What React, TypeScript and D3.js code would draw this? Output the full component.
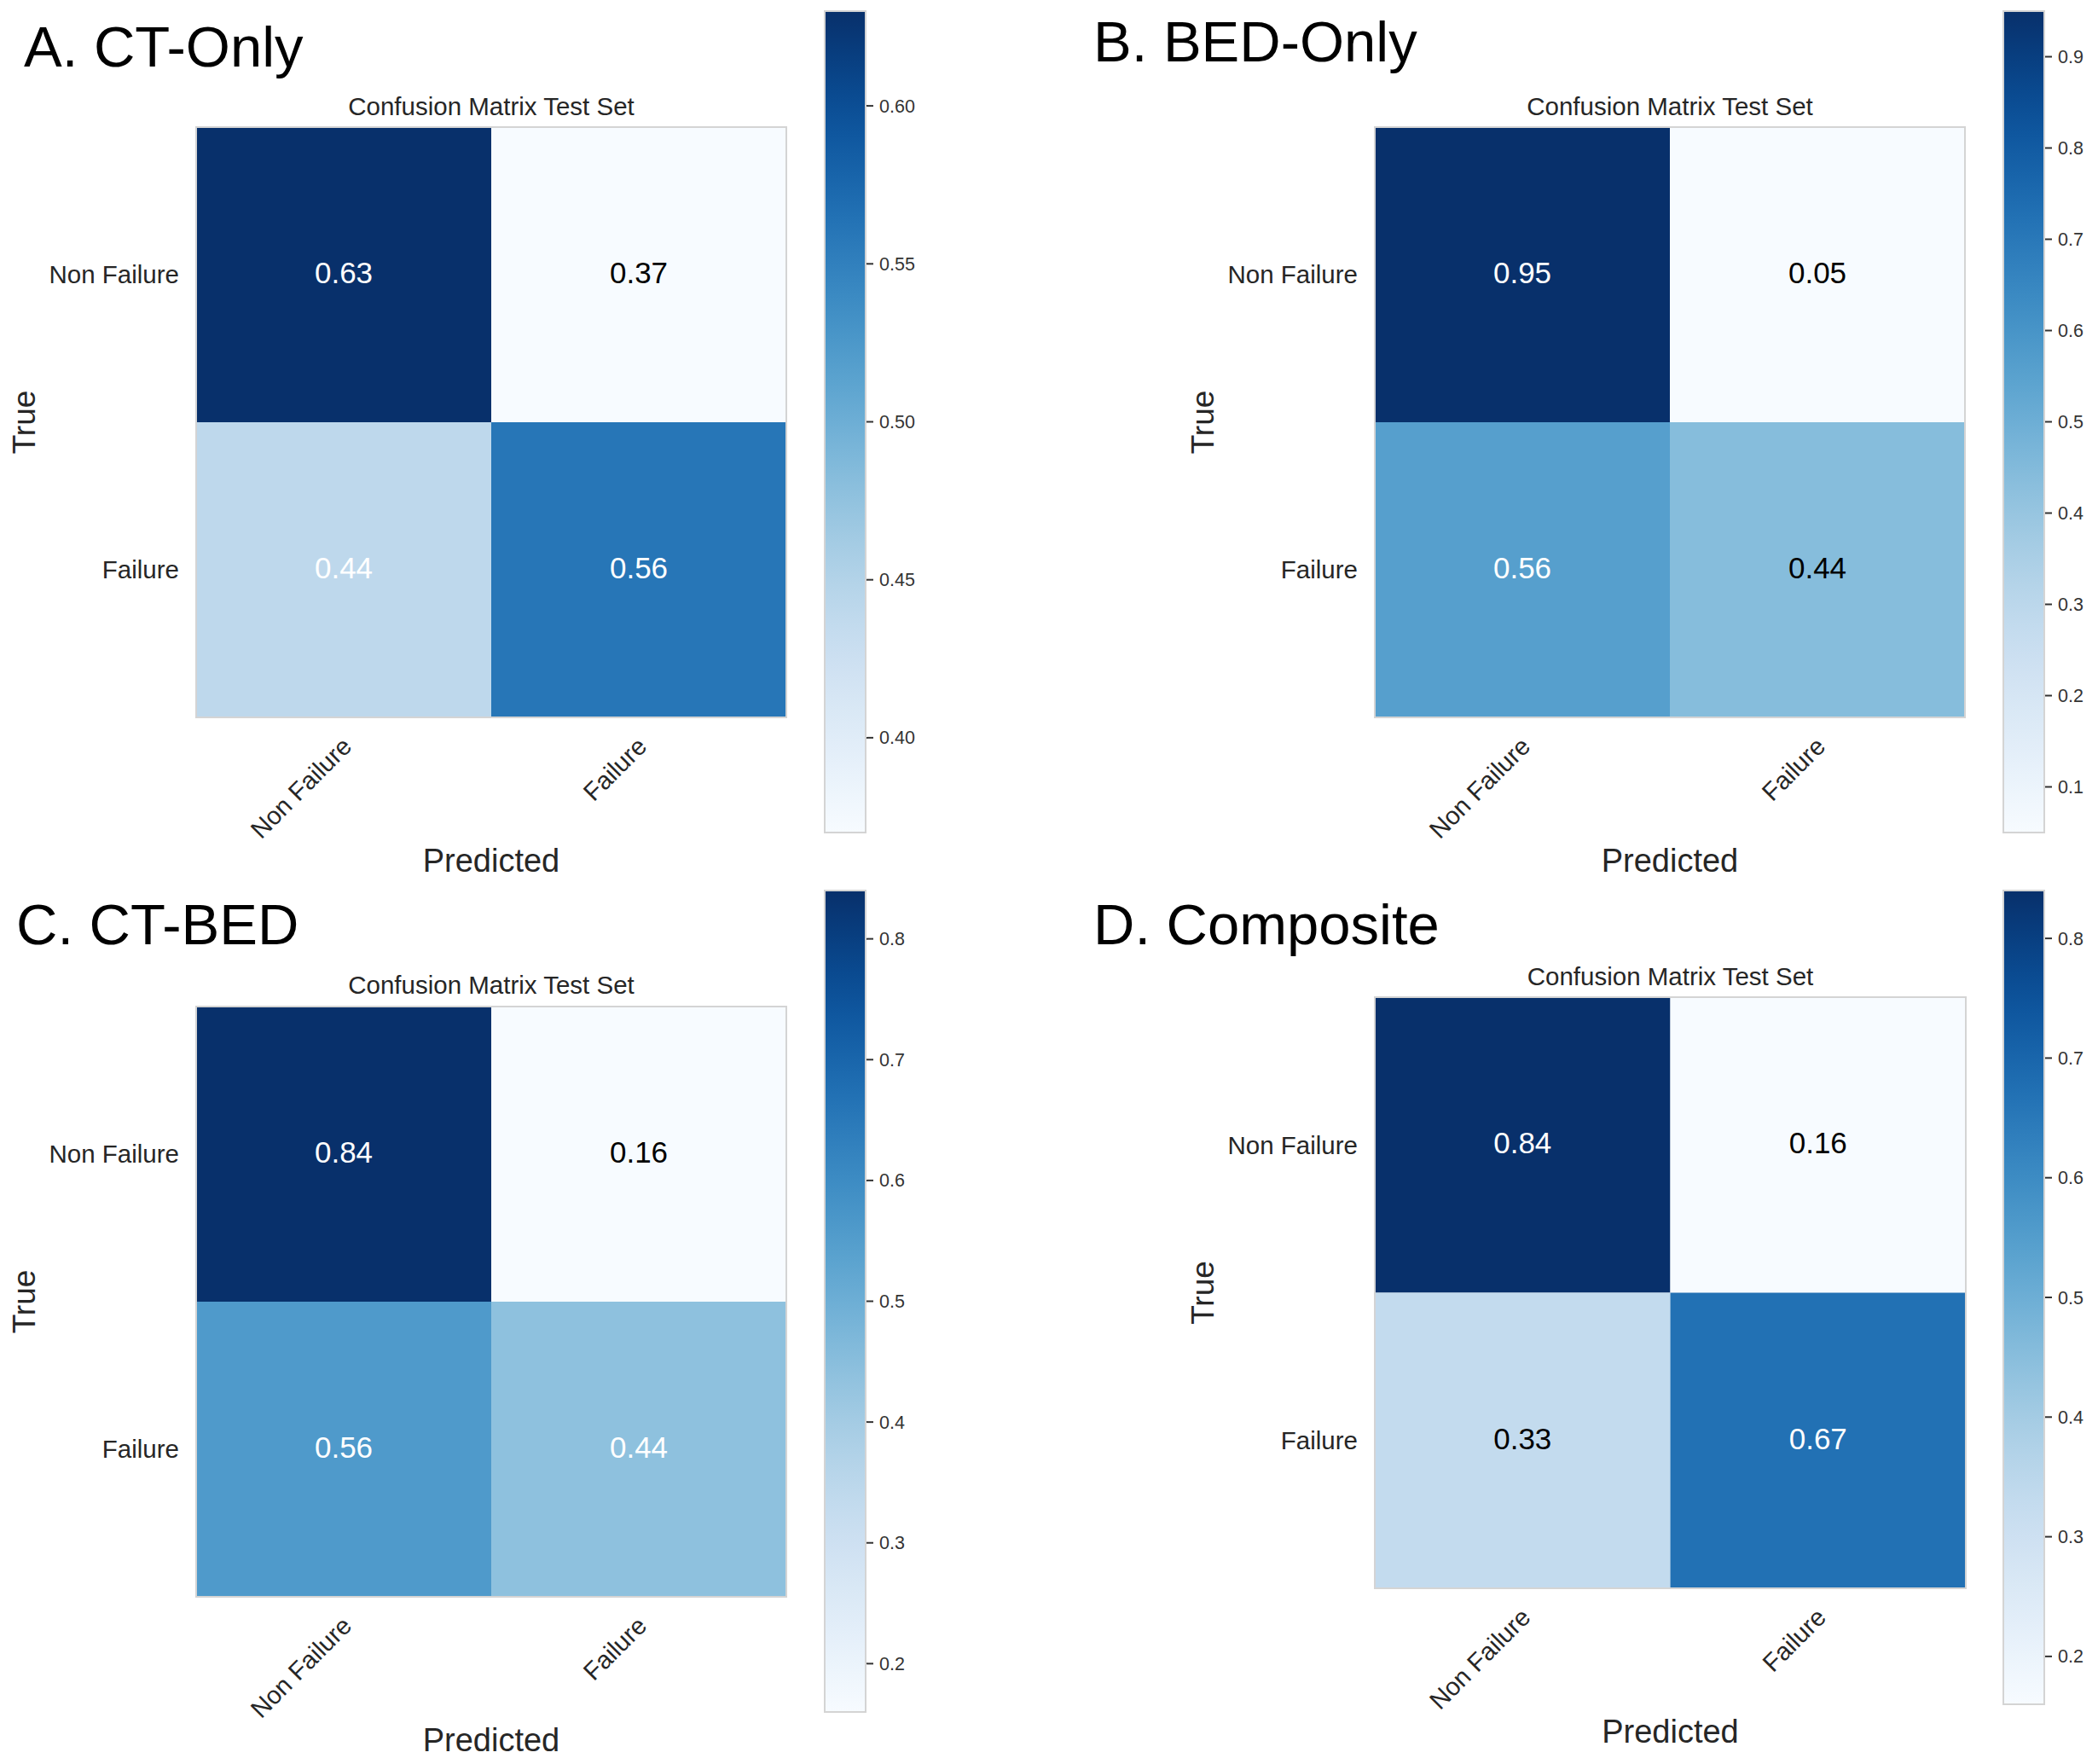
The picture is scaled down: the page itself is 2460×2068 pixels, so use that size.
import React, { useEffect } from 'react';
import * as d3 from 'd3';

// Class labels (rows = true, cols = predicted)
const CLASSES = ['Non Failure', 'Failure'];

// Normalised confusion matrices
const CT_ONLY = [
  [0.63, 0.37],
  [0.44, 0.56],
];
const BED_ONLY = [
  [0.95, 0.05],
  [0.56, 0.44],
];
const CT_BED = [
  [0.84, 0.16],
  [0.56, 0.44],
];
const COMPOSITE = [
  [0.84, 0.16],
  [0.33, 0.67],
];

// Which annotations are printed in white
const CT_ONLY_WHITE = [
  [true, false],
  [true, true],
];
const BED_ONLY_WHITE = [
  [true, false],
  [true, false],
];
const CT_BED_WHITE = [
  [true, false],
  [true, true],
];
const COMPOSITE_WHITE = [
  [true, false],
  [false, true],
];

// Colorbar ticks
const CT_ONLY_TICKS = [0.4, 0.45, 0.5, 0.55, 0.6];
const BED_ONLY_TICKS = [0.1, 0.2, 0.3, 0.4, 0.5, 0.6, 0.7, 0.8, 0.9];
const CT_BED_TICKS = [0.2, 0.3, 0.4, 0.5, 0.6, 0.7, 0.8];
const COMPOSITE_TICKS = [0.2, 0.3, 0.4, 0.5, 0.6, 0.7, 0.8];

const W = 2460;
const H = 2068;
const FONT = '"Liberation Sans", Arial, Helvetica, sans-serif';
const AXIS_INK = '#262626';
const EDGE = '#d4d4d4';

interface PanelSpec {
  id: string;
  letter: string;
  letterX: number;
  letterY: number;
  matrix: number[][];
  white: boolean[][];
  ticks: number[];
  tickFmt: string;
  mx: number;
  my: number;
  size: number;
  titleY: number;
  cbX: number;
  cbY: number;
  cbW: number;
  cbH: number;
}

const PANELS: PanelSpec[] = [
  {
    id: 'a', letter: 'A. CT-Only', letterX: 28, letterY: 78,
    matrix: CT_ONLY, white: CT_ONLY_WHITE, ticks: CT_ONLY_TICKS, tickFmt: '.2f',
    mx: 230, my: 149, size: 692, titleY: 135,
    cbX: 967, cbY: 13, cbW: 48, cbH: 963,
  },
  {
    id: 'b', letter: 'B. BED-Only', letterX: 1282, letterY: 72,
    matrix: BED_ONLY, white: BED_ONLY_WHITE, ticks: BED_ONLY_TICKS, tickFmt: '.1f',
    mx: 1612, my: 149, size: 692, titleY: 135,
    cbX: 2349, cbY: 13, cbW: 48, cbH: 963,
  },
  {
    id: 'c', letter: 'C. CT-BED', letterX: 19, letterY: 1107,
    matrix: CT_BED, white: CT_BED_WHITE, ticks: CT_BED_TICKS, tickFmt: '.1f',
    mx: 230, my: 1180, size: 692, titleY: 1165,
    cbX: 967, cbY: 1044, cbW: 48, cbH: 963,
  },
  {
    id: 'd', letter: 'D. Composite', letterX: 1282, letterY: 1107,
    matrix: COMPOSITE, white: COMPOSITE_WHITE, ticks: COMPOSITE_TICKS, tickFmt: '.1f',
    mx: 1612, my: 1169, size: 693, titleY: 1155,
    cbX: 2349, cbY: 1044, cbW: 48, cbH: 954,
  },
];

const GRAD_STOPS = d3.range(0, 1.0001, 0.05);

const Panel: React.FC<{ p: PanelSpec }> = ({ p }) => {
  const flat = p.matrix.flat();
  const [lo, hi] = d3.extent(flat) as [number, number];
  const color = d3.scaleSequential(d3.interpolateBlues).domain([lo, hi]);

  const x = d3.scaleBand<string>().domain(CLASSES).range([p.mx, p.mx + p.size]);
  const y = d3.scaleBand<string>().domain(CLASSES).range([p.my, p.my + p.size]);
  const cb = d3.scaleLinear().domain([lo, hi]).range([p.cbY + p.cbH, p.cbY]);
  const fmt = d3.format(p.tickFmt);
  const bottom = p.my + p.size;
  const midX = p.mx + p.size / 2;
  const midY = p.my + p.size / 2;

  return (
    <g>
      <defs>
        <linearGradient id={`grad-${p.id}`} x1="0" y1="1" x2="0" y2="0">
          {GRAD_STOPS.map(t => (
            <stop key={t} offset={t} stopColor={d3.interpolateBlues(t)} />
          ))}
        </linearGradient>
      </defs>

      <text x={p.letterX} y={p.letterY} fontSize={67} fill="#000">{p.letter}</text>

      <text x={midX} y={p.titleY} fontSize={29.5} fill={AXIS_INK} textAnchor="middle">
        Confusion Matrix Test Set
      </text>

      {p.matrix.map((row, i) =>
        row.map((v, j) => (
          <g key={`${i}-${j}`}>
            <rect
              x={x(CLASSES[j])}
              y={y(CLASSES[i])}
              width={x.bandwidth()}
              height={y.bandwidth()}
              fill={color(v)}
            />
            <text
              x={(x(CLASSES[j]) as number) + x.bandwidth() / 2}
              y={(y(CLASSES[i]) as number) + y.bandwidth() / 2}
              dy="0.28em"
              fontSize={35}
              textAnchor="middle"
              fill={p.white[i][j] ? '#ffffff' : '#000000'}
            >
              {v.toFixed(2)}
            </text>
          </g>
        ))
      )}
      <rect x={p.mx} y={p.my} width={p.size} height={p.size} fill="none" stroke={EDGE} strokeWidth={2} />

      {CLASSES.map(c => (
        <text
          key={`yl-${c}`}
          x={p.mx - 20}
          y={(y(c) as number) + y.bandwidth() / 2}
          dy="0.35em"
          fontSize={29.5}
          textAnchor="end"
          fill={AXIS_INK}
        >
          {c}
        </text>
      ))}

      {CLASSES.map(c => {
        const tx = (x(c) as number) + x.bandwidth() / 2 + 11;
        const ty = bottom + 36;
        return (
          <text
            key={`xl-${c}`}
            transform={`translate(${tx},${ty}) rotate(-45)`}
            fontSize={29.5}
            textAnchor="end"
            fill={AXIS_INK}
          >
            {c}
          </text>
        );
      })}

      <text
        transform={`translate(${p.mx - 189},${midY}) rotate(-90)`}
        fontSize={37}
        textAnchor="middle"
        fill={AXIS_INK}
      >
        True
      </text>
      <text x={midX} y={bottom + 181} fontSize={38} textAnchor="middle" fill={AXIS_INK}>
        Predicted
      </text>

      <rect
        x={p.cbX}
        y={p.cbY}
        width={p.cbW}
        height={p.cbH}
        fill={`url(#grad-${p.id})`}
        stroke={EDGE}
        strokeWidth={2}
      />
      {p.ticks.map(t => (
        <g key={`t-${t}`} transform={`translate(${p.cbX + p.cbW},${cb(t)})`}>
          <line x1={1} x2={9} stroke="#333" strokeWidth={2} />
          <text x={16} dy="0.35em" fontSize={21.5} fill="#333">{fmt(t)}</text>
        </g>
      ))}
    </g>
  );
};

export default function App() {
  useEffect(() => {
    document.body.style.margin = '0';
  }, []);

  return (
    <svg width={W} height={H} viewBox={`0 0 ${W} ${H}`} style={{ display: 'block', background: '#fff' }} fontFamily={FONT}>
      <rect width={W} height={H} fill="#fff" />
      {PANELS.map(p => (
        <Panel key={p.id} p={p} />
      ))}
    </svg>
  );
}
